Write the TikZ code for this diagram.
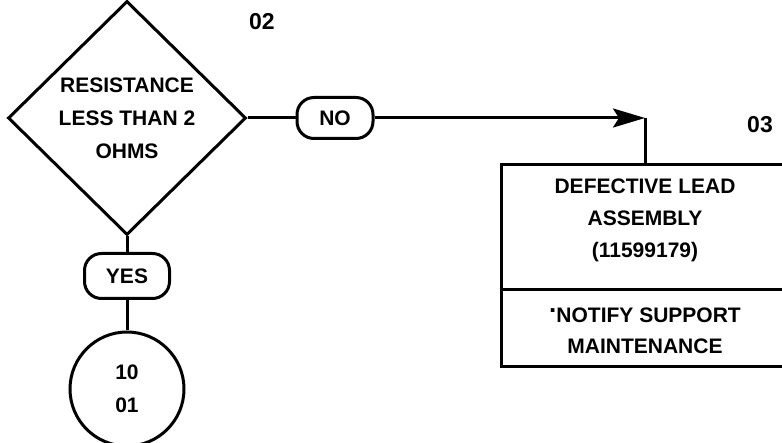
\documentclass[tikz,border=0pt]{standalone}
\usepackage{fontspec}
\setmainfont{Liberation Sans}
\usetikzlibrary{shapes.geometric,arrows.meta}

\begin{document}
\begin{tikzpicture}[
    x=1pt, y=-1pt,
    line width=3pt,
    every node/.style={font=\bfseries\fontsize{21}{33}\selectfont},
    decision/.style={
        draw, diamond, inner sep=0pt,
        minimum width=238pt, minimum height=234pt
    },
    pill/.style={
        draw, rounded corners=17pt,
        minimum height=41pt, inner sep=0pt
    },
    result/.style={
        draw, inner sep=0pt,
        minimum width=288pt, minimum height=202pt
    },
    link/.style={
        draw, circle, inner sep=0pt,
        minimum size=114pt, align=center
    },
    txt/.style={align=center, inner sep=0pt},
    stepno/.style={font=\bfseries\fontsize{23}{23}\selectfont},
    arr/.style={-{Stealth[length=32pt,width=19pt,inset=6pt]}}
]
\useasboundingbox (0,0) rectangle (782,443);

% ----------------------------------------------------------
% Entscheidung 02
% ----------------------------------------------------------
\node[decision] (test) at (127, 118) {};
\node[txt] (testtxt) at (127, 118) {RESISTANCE\\LESS THAN 2\\OHMS};
\node[stepno] (n02) at (262, 22) {02};

% Antworten
\node[pill, minimum width=76pt] (no) at (335, 118) {NO};
\node[pill, minimum width=85pt, minimum height=45pt] (yes) at (127, 276) {YES};

% Verweis auf 10/01
\node[link] (ret) at (127, 389) {\fontsize{21}{32}\selectfont 10\\01};

% ----------------------------------------------------------
% Ergebnis 03
% ----------------------------------------------------------
\node[result] (defect) at (645, 266) {};
\node[txt, font=\bfseries\fontsize{21}{32}\selectfont] (defecttxt) at (645, 220)
    {DEFECTIVE LEAD\\ASSEMBLY\\(11599179)};
\node[txt, font=\bfseries\fontsize{21}{31}\selectfont] (notify) at (645, 331)
    {\raisebox{0.9ex}{\fontsize{26}{26}\selectfont .}NOTIFY SUPPORT\\MAINTENANCE};
\draw (defect.west |- 0,290) -- (defect.east |- 0,290);
\node[stepno] (n03) at (760, 125) {03};

% ----------------------------------------------------------
% Verbindungen
% ----------------------------------------------------------
\coordinate (bend) at (645, 118);
\draw (test.east) -- (no.west);
\draw[arr] (no.east) -- (bend);
\draw (bend) -- (defect.north);
\draw (test.south) -- (yes.north);
\draw (yes.south) -- (ret.north);

\end{tikzpicture}
\end{document}
